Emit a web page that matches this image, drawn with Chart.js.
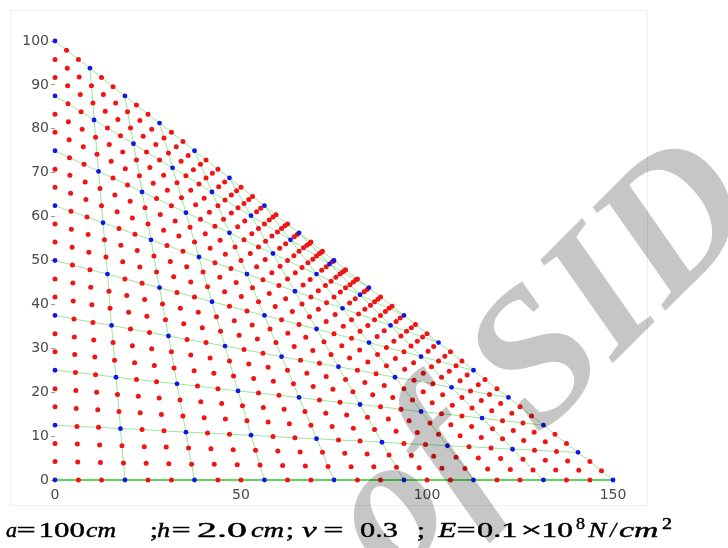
<!DOCTYPE html>
<html>
<head>
<meta charset="utf-8">
<script src="https://cdn.jsdelivr.net/npm/chart.js@4.4.1/dist/chart.umd.min.js"></script>
<style>
  html, body { margin: 0; padding: 0; background: #fff; }
  canvas { display: block; }
</style>
</head>
<body>
<canvas id="mesh" width="728" height="548"></canvas>
<script>
// Tick values of the two axes
const xTickValues = [0, 50, 100, 150];
const yTickValues = [0, 10, 20, 30, 40, 50, 60, 70, 80, 90, 100];

// Node coordinates of the 8 x 8 cubic-element mesh (25 x 25 nodes).
// Row j runs from the left edge (x = 0) to the lower half of the hypotenuse.
const nodeX = [
  [0,6.3,12.5,18.8,25,31.3,37.5,43.8,50,56.3,62.5,68.8,75,81.3,87.5,93.8,100,106.3,112.5,118.8,125,131.3,137.5,143.8,150],
  [0,6.1,12.2,18.4,24.5,30.6,36.7,42.8,49.0,55.1,61.2,67.3,73.4,79.6,85.7,91.8,97.9,104.0,110.2,116.3,122.4,128.5,134.6,140.8,146.9],
  [0,6.0,12.0,18.0,24.0,29.9,35.9,41.9,47.9,53.9,59.9,65.9,71.9,77.9,83.9,89.8,95.8,101.8,107.8,113.8,119.8,125.8,131.8,137.8,143.8],
  [0,5.9,11.7,17.6,23.4,29.3,35.2,41.0,46.9,52.7,58.6,64.5,70.3,76.2,82.0,87.9,93.8,99.6,105.5,111.3,117.2,123.0,128.9,134.8,140.6],
  [0,5.7,11.5,17.2,22.9,28.6,34.4,40.1,45.8,51.6,57.3,63.0,68.8,74.5,80.2,85.9,91.7,97.4,103.1,108.9,114.6,120.3,126.0,131.8,137.5],
  [0,5.6,11.2,16.8,22.4,28.0,33.6,39.2,44.8,50.4,56.0,61.6,67.2,72.8,78.4,84.0,89.6,95.2,100.8,106.4,112.0,117.6,123.2,128.8,134.4],
  [0,5.5,10.9,16.4,21.9,27.3,32.8,38.3,43.8,49.2,54.7,60.2,65.6,71.1,76.6,82.0,87.5,93.0,98.4,103.9,109.4,114.8,120.3,125.8,131.3],
  [0,5.3,10.7,16.0,21.4,26.7,32.0,37.4,42.7,48.0,53.4,58.7,64.1,69.4,74.7,80.1,85.4,90.8,96.1,101.4,106.8,112.1,117.4,122.8,128.1],
  [0,5.2,10.4,15.6,20.8,26.0,31.3,36.5,41.7,46.9,52.1,57.3,62.5,67.7,72.9,78.1,83.3,88.5,93.8,99.0,104.2,109.4,114.6,119.8,125],
  [0,5.1,10.2,15.2,20.3,25.4,30.5,35.5,40.6,45.7,50.8,55.9,60.9,66.0,71.1,76.2,81.3,86.3,91.4,96.5,101.6,106.6,111.7,116.8,121.9],
  [0,4.9,9.9,14.8,19.8,24.7,29.7,34.6,39.6,44.5,49.5,54.4,59.4,64.3,69.3,74.2,79.2,84.1,89.1,94.0,99.0,103.9,108.9,113.8,118.8],
  [0,4.8,9.6,14.5,19.3,24.1,28.9,33.7,38.5,43.4,48.2,53.0,57.8,62.6,67.4,72.3,77.1,81.9,86.7,91.5,96.4,101.2,106.0,110.8,115.6],
  [0,4.7,9.4,14.1,18.8,23.4,28.1,32.8,37.5,42.2,46.9,51.6,56.3,60.9,65.6,70.3,75,79.7,84.4,89.1,93.8,98.4,103.1,107.8,112.5],
  [0,4.6,9.1,13.7,18.2,22.8,27.3,31.9,36.5,41.0,45.6,50.1,54.7,59.2,63.8,68.4,72.9,77.5,82.0,86.6,91.1,95.7,100.3,104.8,109.4],
  [0,4.4,8.9,13.3,17.7,22.1,26.6,31.0,35.4,39.8,44.3,48.7,53.1,57.6,62.0,66.4,70.8,75.3,79.7,84.1,88.5,93.0,97.4,101.8,106.3],
  [0,4.3,8.6,12.9,17.2,21.5,25.8,30.1,34.4,38.7,43.0,47.3,51.6,55.9,60.2,64.5,68.8,73.0,77.3,81.6,85.9,90.2,94.5,98.8,103.1],
  [0,4.2,8.3,12.5,16.7,20.8,25,29.2,33.3,37.5,41.7,45.8,50,54.2,58.3,62.5,66.7,70.8,75,79.2,83.3,87.5,91.7,95.8,100],
  [0,4.0,8.1,12.1,16.1,20.2,24.2,28.3,32.3,36.3,40.4,44.4,48.4,52.5,56.5,60.5,64.6,68.6,72.7,76.7,80.7,84.8,88.8,92.8,96.9],
  [0,3.9,7.8,11.7,15.6,19.5,23.4,27.3,31.3,35.2,39.1,43.0,46.9,50.8,54.7,58.6,62.5,66.4,70.3,74.2,78.1,82.0,85.9,89.8,93.8],
  [0,3.8,7.6,11.3,15.1,18.9,22.7,26.4,30.2,34.0,37.8,41.5,45.3,49.1,52.9,56.6,60.4,64.2,68.0,71.7,75.5,79.3,83.1,86.8,90.6],
  [0,3.6,7.3,10.9,14.6,18.2,21.9,25.5,29.2,32.8,36.5,40.1,43.8,47.4,51.0,54.7,58.3,62.0,65.6,69.3,72.9,76.6,80.2,83.9,87.5],
  [0,3.5,7.0,10.5,14.1,17.6,21.1,24.6,28.1,31.6,35.2,38.7,42.2,45.7,49.2,52.7,56.3,59.8,63.3,66.8,70.3,73.8,77.3,80.9,84.4],
  [0,3.4,6.8,10.2,13.5,16.9,20.3,23.7,27.1,30.5,33.9,37.2,40.6,44.0,47.4,50.8,54.2,57.6,60.9,64.3,67.7,71.1,74.5,77.9,81.3],
  [0,3.3,6.5,9.8,13.0,16.3,19.5,22.8,26.0,29.3,32.6,35.8,39.1,42.3,45.6,48.8,52.1,55.3,58.6,61.8,65.1,68.4,71.6,74.9,78.1],
  [0,3.1,6.3,9.4,12.5,15.6,18.8,21.9,25,28.1,31.3,34.4,37.5,40.6,43.8,46.9,50,53.1,56.3,59.4,62.5,65.6,68.8,71.9,75]
];
const nodeY = [
  [0,0,0,0,0,0,0,0,0,0,0,0,0,0,0,0,0,0,0,0,0,0,0,0,0],
  [4.2,4.1,4.0,3.9,3.8,3.7,3.6,3.6,3.5,3.4,3.3,3.2,3.1,3.0,3.0,2.9,2.8,2.7,2.6,2.5,2.4,2.3,2.3,2.2,2.1],
  [8.3,8.2,8.0,7.8,7.6,7.5,7.3,7.1,6.9,6.8,6.6,6.4,6.3,6.1,5.9,5.7,5.6,5.4,5.2,5.0,4.9,4.7,4.5,4.3,4.2],
  [12.5,12.2,12.0,11.7,11.5,11.2,10.9,10.7,10.4,10.2,9.9,9.6,9.4,9.1,8.9,8.6,8.3,8.1,7.8,7.6,7.3,7.0,6.8,6.5,6.3],
  [16.7,16.3,16.0,15.6,15.3,14.9,14.6,14.2,13.9,13.5,13.2,12.8,12.5,12.2,11.8,11.5,11.1,10.8,10.4,10.1,9.7,9.4,9.0,8.7,8.3],
  [20.8,20.4,20.0,19.5,19.1,18.7,18.2,17.8,17.4,16.9,16.5,16.1,15.6,15.2,14.8,14.3,13.9,13.5,13.0,12.6,12.2,11.7,11.3,10.9,10.4],
  [25,24.5,24.0,23.4,22.9,22.4,21.9,21.4,20.8,20.3,19.8,19.3,18.8,18.2,17.7,17.2,16.7,16.1,15.6,15.1,14.6,14.1,13.5,13.0,12.5],
  [29.2,28.6,28.0,27.3,26.7,26.1,25.5,24.9,24.3,23.7,23.1,22.5,21.9,21.3,20.7,20.1,19.4,18.8,18.2,17.6,17.0,16.4,15.8,15.2,14.6],
  [33.3,32.6,31.9,31.3,30.6,29.9,29.2,28.5,27.8,27.1,26.4,25.7,25,24.3,23.6,22.9,22.2,21.5,20.8,20.1,19.4,18.8,18.1,17.4,16.7],
  [37.5,36.7,35.9,35.2,34.4,33.6,32.8,32.0,31.3,30.5,29.7,28.9,28.1,27.3,26.6,25.8,25,24.2,23.4,22.7,21.9,21.1,20.3,19.5,18.8],
  [41.7,40.8,39.9,39.1,38.2,37.3,36.5,35.6,34.7,33.9,33.0,32.1,31.3,30.4,29.5,28.6,27.8,26.9,26.0,25.2,24.3,23.4,22.6,21.7,20.8],
  [45.8,44.9,43.9,43.0,42.0,41.1,40.1,39.1,38.2,37.2,36.3,35.3,34.4,33.4,32.5,31.5,30.6,29.6,28.6,27.7,26.7,25.8,24.8,23.9,22.9],
  [50,49.0,47.9,46.9,45.8,44.8,43.8,42.7,41.7,40.6,39.6,38.5,37.5,36.5,35.4,34.4,33.3,32.3,31.3,30.2,29.2,28.1,27.1,26.0,25],
  [54.2,53.0,51.9,50.8,49.7,48.5,47.4,46.3,45.1,44.0,42.9,41.8,40.6,39.5,38.4,37.2,36.1,35.0,33.9,32.7,31.6,30.5,29.3,28.2,27.1],
  [58.3,57.1,55.9,54.7,53.5,52.3,51.0,49.8,48.6,47.4,46.2,45.0,43.8,42.5,41.3,40.1,38.9,37.7,36.5,35.2,34.0,32.8,31.6,30.4,29.2],
  [62.5,61.2,59.9,58.6,57.3,56.0,54.7,53.4,52.1,50.8,49.5,48.2,46.9,45.6,44.3,43.0,41.7,40.4,39.1,37.8,36.5,35.2,33.9,32.6,31.3],
  [66.7,65.3,63.9,62.5,61.1,59.7,58.3,56.9,55.6,54.2,52.8,51.4,50,48.6,47.2,45.8,44.4,43.1,41.7,40.3,38.9,37.5,36.1,34.7,33.3],
  [70.8,69.4,67.9,66.4,64.9,63.5,62.0,60.5,59.0,57.6,56.1,54.6,53.1,51.6,50.2,48.7,47.2,45.7,44.3,42.8,41.3,39.8,38.4,36.9,35.4],
  [75,73.4,71.9,70.3,68.8,67.2,65.6,64.1,62.5,60.9,59.4,57.8,56.3,54.7,53.1,51.6,50,48.4,46.9,45.3,43.8,42.2,40.6,39.1,37.5],
  [79.2,77.5,75.9,74.2,72.6,70.9,69.3,67.6,66.0,64.3,62.7,61.0,59.4,57.7,56.1,54.4,52.8,51.1,49.5,47.8,46.2,44.5,42.9,41.2,39.6],
  [83.3,81.6,79.9,78.1,76.4,74.7,72.9,71.2,69.4,67.7,66.0,64.2,62.5,60.8,59.0,57.3,55.6,53.8,52.1,50.3,48.6,46.9,45.1,43.4,41.7],
  [87.5,85.7,83.9,82.0,80.2,78.4,76.6,74.7,72.9,71.1,69.3,67.4,65.6,63.8,62.0,60.2,58.3,56.5,54.7,52.9,51.0,49.2,47.4,45.6,43.8],
  [91.7,89.8,87.8,85.9,84.0,82.1,80.2,78.3,76.4,74.5,72.6,70.7,68.8,66.8,64.9,63.0,61.1,59.2,57.3,55.4,53.5,51.6,49.7,47.7,45.8],
  [95.8,93.8,91.8,89.8,87.8,85.9,83.9,81.9,79.9,77.9,75.9,73.9,71.9,69.9,67.9,65.9,63.9,61.9,59.9,57.9,55.9,53.9,51.9,49.9,47.9],
  [100,97.9,95.8,93.8,91.7,89.6,87.5,85.4,83.3,81.3,79.2,77.1,75,72.9,70.8,68.8,66.7,64.6,62.5,60.4,58.3,56.3,54.2,52.1,50]
];

// Cubic elements: every third node along a grid line is an element corner.
const EDGE_STEP = 3;
const GRID_N = nodeX.length;

const cornerNodes = [];
const innerNodes = [];
for (let j = 0; j < GRID_N; j++) {
  for (let i = 0; i < GRID_N; i++) {
    const p = { x: nodeX[j][i], y: nodeY[j][i] };
    if (i % EDGE_STEP === 0 && j % EDGE_STEP === 0) cornerNodes.push(p);
    else innerNodes.push(p);
  }
}

const EDGE_COLOR = 'rgba(120, 222, 120, 0.75)';
const BASE_COLOR = '#5ad85a';

function edgeSet(points, isBase) {
  return {
    type: 'scatter',
    data: points,
    showLine: true,
    borderColor: isBase ? BASE_COLOR : EDGE_COLOR,
    borderWidth: isBase ? 2 : 1,
    pointRadius: 0,
    fill: false,
    tension: 0,
    clip: false,
    order: 3
  };
}

const edgeSets = [];
// element edges that start on the left side
for (let j = 0; j < GRID_N; j += EDGE_STEP) {
  edgeSets.push(edgeSet(nodeX[j].map((x, i) => ({ x, y: nodeY[j][i] })), j === 0));
}
// element edges that start on the bottom side
for (let i = EDGE_STEP; i < GRID_N; i += EDGE_STEP) {
  edgeSets.push(edgeSet(nodeX.map((row, j) => ({ x: row[i], y: nodeY[j][i] })), false));
}

// draws a glyph run so that its ink spans [x0, x1] on the given baseline
function fitText(ctx, t, x0, x1, base, font) {
  ctx.save();
  ctx.font = font;
  const m = ctx.measureText(t);
  const left = m.actualBoundingBoxLeft;
  const ink = left + m.actualBoundingBoxRight;
  const s = x1 > x0 ? (x1 - x0) / ink : 1.35;
  ctx.translate(x0, base);
  ctx.scale(s, 1);
  ctx.fillText(t, left, 0);
  ctx.lineWidth = 0.45;
  ctx.strokeText(t, left, 0);
  ctx.restore();
}

const paperPlugin = {
  id: 'paper',
  beforeDraw(chart) {
    const ctx = chart.ctx;
    ctx.save();
    ctx.fillStyle = '#ffffff';
    ctx.fillRect(0, 0, chart.width, chart.height);
    ctx.strokeStyle = '#efefef';
    ctx.lineWidth = 1;
    ctx.strokeRect(10.5, 10.5, 637, 495);
    ctx.restore();
  },
  afterDraw(chart) {
    const ctx = chart.ctx;
    // parameter line under the plot: [text, ink left, ink right, style]
    const parts = [
      ['a', 6, 17, 'i'], ['=', 18, 35, 'r'], ['100', 40, 85, 'r'], ['cm', 86, 115, 'i'],
      [';', 151, 0, 'r'], ['h', 157, 170, 'i'], ['=', 173, 190, 'r'],
      ['2.0', 197, 247, 'r'], ['cm', 251, 283, 'i'],
      [';', 287, 0, 'r'], ['\u03bd', 302, 317, 'i'], ['=', 325, 343, 'r'],
      ['0.3', 360, 398, 'r'], [';', 418, 0, 'r'],
      ['E', 437, 457, 'i'], ['=', 458, 475, 'r'],
      ['0.1', 477, 516, 'r'],
      ['\u00d7', 522, 540, 'r'], ['10', 543, 573, 'r'], ['8', 576, 585, 's'],
      ['N', 587, 608, 'i'], ['/', 608, 618, 'i'], ['cm', 619, 657, 'i'], ['2', 662, 672, 's']
    ];
    ctx.save();
    ctx.fillStyle = '#000';
    ctx.strokeStyle = '#000';
    ctx.textBaseline = 'alphabetic';
    ctx.textAlign = 'left';
    for (const [t, x0, x1, k] of parts) {
      if (k === 's') fitText(ctx, t, x0, x1, 529, '16px "Liberation Serif"');
      else fitText(ctx, t, x0, x1, 537, (k === 'i' ? 'italic ' : '') + '22px "Liberation Serif"');
    }
    ctx.restore();

    // archive stamp laid over the figure
    ctx.save();
    ctx.globalCompositeOperation = 'multiply';
    ctx.fillStyle = '#c6c6c6';
    ctx.font = 'italic bold 190px "Liberation Serif"';
    ctx.textBaseline = 'alphabetic';
    ctx.textAlign = 'left';
    ctx.translate(614, 362);
    ctx.rotate(-45 * Math.PI / 180);
    const lead = ctx.measureText('of S').width;
    ctx.fillText('of SID', -lead, 0);
    ctx.restore();
  }
};

const tickFont = { family: '"DejaVu Sans"', size: 14 };

new Chart(document.getElementById('mesh'), {
  type: 'scatter',
  data: {
    datasets: [
      {
        data: cornerNodes,
        pointRadius: 2.4,
        pointBackgroundColor: '#1414e6',
        pointBorderWidth: 0,
        clip: false,
        order: 1
      },
      {
        data: innerNodes,
        pointRadius: 2.5,
        pointBackgroundColor: '#f01414',
        pointBorderWidth: 0,
        clip: false,
        order: 2
      },
      ...edgeSets
    ]
  },
  options: {
    responsive: false,
    devicePixelRatio: 1,
    animation: false,
    events: [],
    layout: { padding: { top: 41, right: 115, left: 0, bottom: 0 } },
    plugins: { legend: { display: false }, tooltip: { enabled: false } },
    scales: {
      x: {
        type: 'linear',
        min: 0,
        max: 150,
        afterBuildTicks: s => { s.ticks = xTickValues.map(v => ({ value: v })); },
        afterFit: s => { s.height = 68; },
        grid: { display: false, drawTicks: false },
        border: { display: false },
        ticks: { font: tickFont, color: '#4a4a4a', padding: 7, maxRotation: 0, autoSkip: false }
      },
      y: {
        type: 'linear',
        min: 0,
        max: 100,
        afterBuildTicks: s => { s.ticks = yTickValues.map(v => ({ value: v })); },
        afterFit: s => { s.width = 55; },
        grid: { display: true, drawOnChartArea: false, drawTicks: true, tickLength: 4, color: '#9a9a9a' },
        border: { display: false },
        ticks: { font: tickFont, color: '#4a4a4a', padding: 2, autoSkip: false }
      }
    }
  },
  plugins: [paperPlugin]
});
</script>
</body>
</html>
